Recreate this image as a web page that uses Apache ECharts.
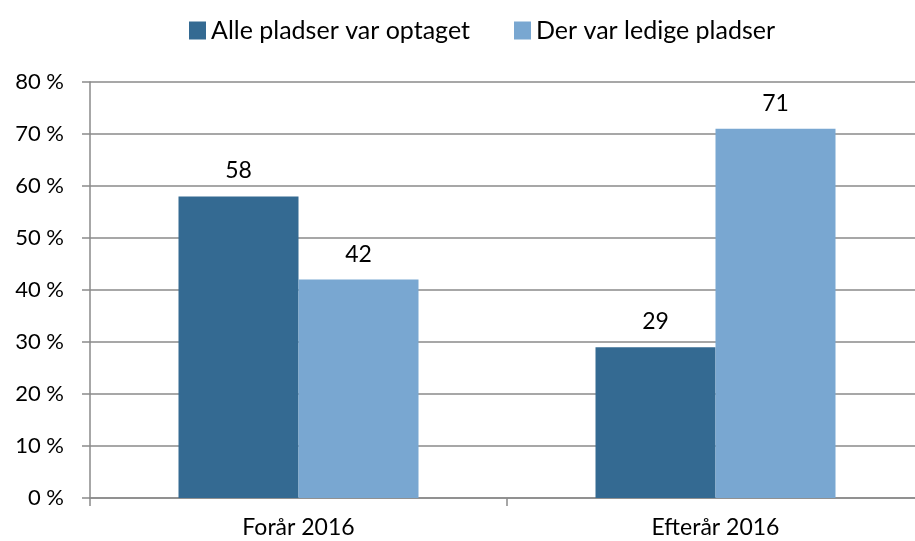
<!DOCTYPE html>
<html>
<head>
<meta charset="utf-8">
<script src="https://cdn.jsdelivr.net/npm/echarts@6/dist/echarts.min.js"></script>
<style>
    html, body { margin: 0; padding: 0; background: #fff; }
    #chart { width: 915px; height: 541px; }
</style>
</head>
<body>
<div id="chart"></div>
<script>
const categories = ['Forår 2016', 'Efterår 2016'];
const seriesNames = ['Alle pladser var optaget', 'Der var ledige pladser'];
const occupied = [58, 29];
const vacant = [42, 71];
const yTicks = [0, 10, 20, 30, 40, 50, 60, 70, 80];

const font = 'Lato';
const axisGrey = '#8a8a8a';

const chart = echarts.init(document.getElementById('chart'));

const label = {
    show: true,
    position: 'top',
    distance: 14,
    color: '#000',
    fontFamily: font,
    fontSize: 23
};

const option = {
    animation: false,
    textStyle: { fontFamily: font },
    legend: {
        top: 13,
        left: 184,
        icon: 'rect',
        itemWidth: 17,
        itemHeight: 18,
        itemGap: 44,
        textStyle: { fontSize: 25, color: '#000', fontFamily: font },
        data: seriesNames
    },
    grid: {
        left: 90,
        top: 82,
        width: 834,
        height: 416,
        outerBoundsMode: 'none',
        containLabel: false
    },
    xAxis: {
        type: 'category',
        data: categories,
        axisLine: { lineStyle: { color: axisGrey, width: 1.5 } },
        axisTick: { show: true, length: 8, lineStyle: { color: axisGrey, width: 1.5 } },
        axisLabel: { color: '#000', fontSize: 23, fontFamily: font, margin: 18 }
    },
    yAxis: {
        type: 'value',
        min: yTicks[0],
        max: yTicks[yTicks.length - 1],
        interval: 10,
        axisLine: { show: true, lineStyle: { color: axisGrey, width: 1.5 } },
        axisTick: { show: true, length: 8, lineStyle: { color: axisGrey, width: 1.5 } },
        splitLine: { lineStyle: { color: axisGrey, width: 1.5 } },
        axisLabel: {
            color: '#000',
            fontSize: 22,
            fontFamily: font,
            margin: 26,
            formatter: v => v + ' %'
        }
    },
    series: [
        {
            name: seriesNames[0],
            type: 'bar',
            data: occupied,
            barWidth: 120,
            barGap: '0%',
            itemStyle: { color: '#346a92' },
            label: label
        },
        {
            name: seriesNames[1],
            type: 'bar',
            data: vacant,
            barWidth: 120,
            itemStyle: { color: '#79a7d1' },
            label: label
        }
    ]
};

chart.setOption(option);
window.addEventListener('resize', () => chart.resize());
</script>
</body>
</html>
